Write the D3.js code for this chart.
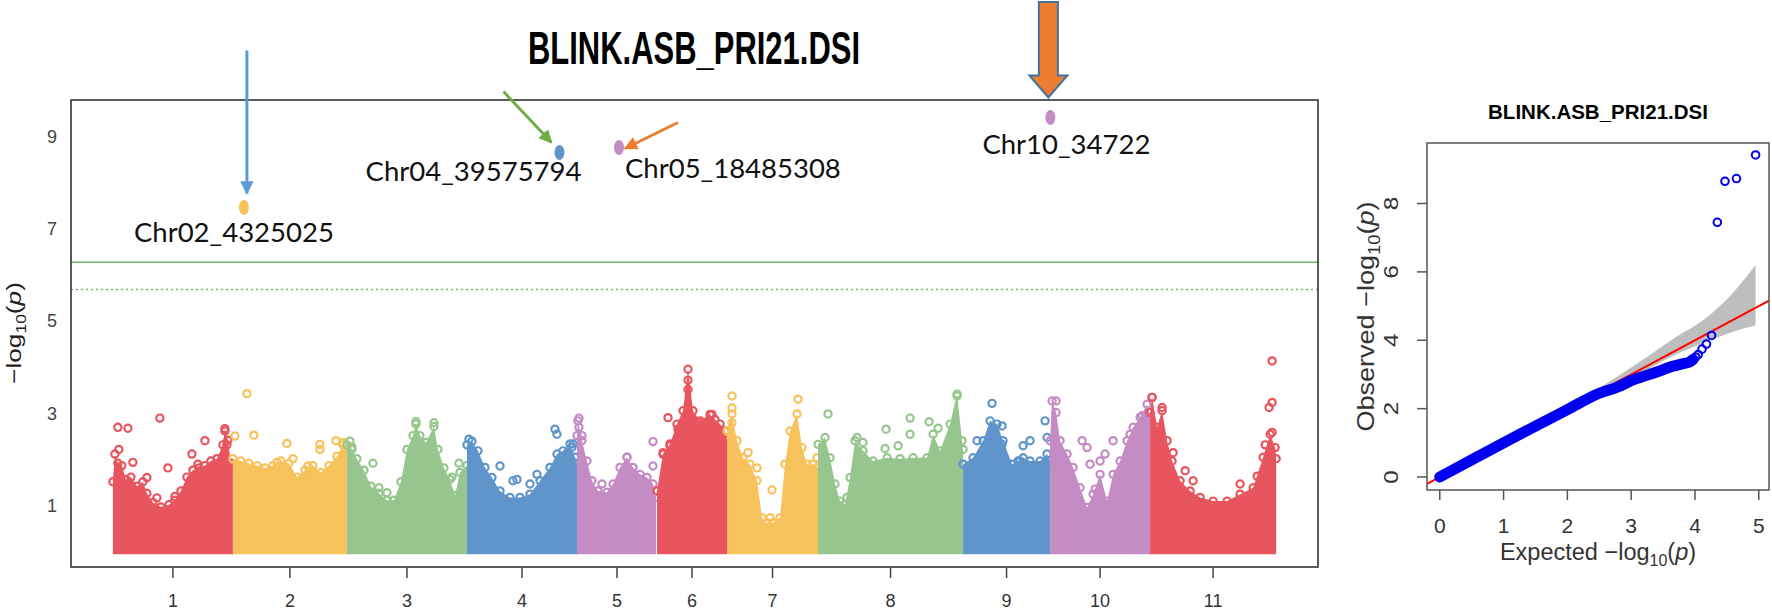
<!DOCTYPE html>
<html lang="en">
<head>
<meta charset="UTF-8">
<title>BLINK.ASB_PRI21.DSI</title>
<script src="https://cdn.jsdelivr.net/npm/d3@7"></script>
<style>
  body { margin: 0; background: #fff; }
  svg { display: block; }
</style>
</head>
<body>
<svg id="chart" width="1772" height="611"></svg>
<script>
// ---------- Manhattan data ----------
const chromosomes = ["1", "2", "3", "4", "5", "6", "7", "8", "9", "10", "11"];
const chrLength = [120, 114, 120, 110, 80, 70, 91, 145, 87, 100, 126];   // Mb, from tick spacing
const chrPalette = ["#E8555F", "#F7C25B", "#96C68D", "#6095CB", "#C48BC5"];

// upper edge of the dense SNP cloud, [position in chromosome, -log10(p)]
const cloudTop = [
  [[0,1.5],[2,2.1],[5,1.9],[9,1.85],[13,1.55],[18,1.6],[24,1.4],[30,1.5],[34,1.25],[40,1.05],[48,0.95],[56,1.0],[62,1.1],[68,1.3],[74,1.6],[80,1.75],[86,1.8],[92,1.85],[98,1.95],[104,2.0],[110,2.3],[112,2.65],[115,2.4],[118,1.9],[120,1.8]],
  [[0,2.0],[8,1.95],[16,1.9],[24,1.85],[32,1.8],[40,1.85],[48,1.95],[56,1.9],[64,1.6],[72,1.75],[80,1.85],[88,1.7],[96,1.85],[104,2.05],[110,2.3],[114,2.2]],
  [[0,2.3],[5,2.2],[10,2.0],[17,1.75],[24,1.4],[32,1.25],[40,1.1],[47,1.1],[54,1.5],[60,2.2],[66,2.5],[69,2.75],[73,2.5],[79,2.35],[87,2.7],[91,2.2],[97,1.8],[103,1.55],[108,1.2],[113,1.7],[120,1.85]],
  [[0,2.3],[5,2.38],[11,2.17],[18,1.81],[25,1.59],[33,1.3],[43,1.16],[53,1.16],[63,1.23],[73,1.52],[83,1.81],[90,2.1],[96,2.17],[103,2.32],[108,2.03],[110,1.9]],
  [[0,2.5],[1,2.82],[5,2.39],[10,1.95],[15,1.52],[21,1.3],[30,1.27],[36,1.45],[43,1.81],[50,2.03],[56,1.81],[63,1.66],[70,1.59],[76,1.45],[79,1.16]],
  [[0,1.3],[6,2.1],[13,2.32],[20,2.75],[26,3.04],[31,3.94],[36,3.04],[43,2.82],[53,2.96],[58,2.85],[63,2.75],[68,2.6],[70,2.4]],
  [[0,2.6],[5,2.97],[10,2.39],[16,2.02],[23,1.88],[30,1.52],[35,0.72],[40,0.61],[46,0.61],[53,0.72],[58,1.88],[63,2.6],[70,2.97],[75,2.24],[80,1.88],[86,1.88],[91,1.81]],
  [[0,2.31],[7,2.46],[12,2.02],[17,1.45],[22,1.08],[27,1.01],[32,1.59],[37,2.39],[45,2.17],[55,1.95],[69,2.02],[82,2.0],[95,2.02],[109,2.02],[115,2.53],[122,2.17],[132,2.75],[139,3.4],[144,2.39],[145,2.2]],
  [[0,1.88],[10,2.02],[20,2.39],[27,2.82],[34,2.75],[40,2.39],[49,1.88],[55,1.95],[60,2.02],[67,1.95],[77,1.95],[84,2.1],[87,1.95]],
  [[0,2.39],[2,3.25],[6,3.0],[10,2.39],[17,2.1],[23,1.81],[30,1.37],[37,0.94],[43,1.23],[50,1.66],[57,1.08],[63,1.66],[70,1.95],[77,2.39],[83,2.68],[90,2.9],[97,3.18],[100,2.9]],
  [[0,3.0],[2,3.33],[7,2.68],[12,3.04],[17,2.39],[22,1.95],[30,1.52],[40,1.3],[50,1.16],[63,1.08],[77,1.08],[90,1.23],[103,1.37],[113,2.03],[120,2.53],[125,2.24],[126,2.0]]
];

// isolated SNPs standing above the cloud
const looseSnps = [
  [[5,2.68],[15,2.66],[47,2.88],[55,1.8],[92,2.39],[79,2.1],[85,1.88],[44,1.15],[62,1.18],[34,1.59],[6,2.2],[20,1.92],[112,2.6],[114,2.3]],
  [[14,3.41],[2,2.49],[21,2.51],[54,2.33],[44,1.92],[87,2.31],[87,2.2],[75,1.84],[103,2.39],[75,1.59],[110,2.35],[60,2.0]],
  [[69,2.8],[87,2.78],[26,1.9],[32,1.37],[40,1.26],[3,2.38],[112,1.9],[105,1.6],[5,2.25]],
  [[88,2.64],[90,2.53],[33,1.84],[50,1.55],[46,1.52],[106,2.32],[105,2.25],[70,1.66],[63,1.45],[2,2.42]],
  [[2,2.88],[2,2.68],[5,2.5],[76,2.37],[76,1.84],[50,2.03],[25,1.45]],
  [[11,2.89],[21,2.64],[13,2.28],[55,2.96],[41,2.8],[6,2.13],[31,3.7],[31,3.5]],
  [[5,3.36],[5,3.1],[5,2.78],[71,3.29],[45,1.32],[30,1.8],[21,2.13],[90,2.02],[43,0.72]],
  [[10,2.97],[68,2.64],[92,2.88],[92,2.53],[111,2.8],[120,2.66],[39,2.46],[45,2.35],[80,2.28],[67,2.22],[29,1.16],[25,0.65],[139,3.36]],
  [[29,3.2],[14,2.39],[39,2.71],[39,2.31],[82,2.82],[67,2.39],[60,2.28],[84,2.46],[57,1.95]],
  [[6,3.25],[32,2.39],[37,2.24],[63,2.39],[45,1.34],[50,1.95],[40,1.88],[80,2.53],[92,2.93],[55,2.1]],
  [[122,4.12],[122,3.22],[119,3.11],[122,2.57],[12,3.11],[23,2.13],[35,1.74],[43,1.52],[90,1.45],[107,1.62],[115,2.3],[2,3.33]]
];

// significant SNPs
const sigName = ["Chr02_4325025", "Chr04_39575794", "Chr05_18485308", "Chr10_34722"];
const sigChr = [2, 4, 5, 10];
const sigPos = [11, 92.5, 42, 0.3];
const sigLogP = [7.45, 8.64, 8.75, 9.40];

const thresholds = [6.26, 5.67];
const manhattanYTicks = [1, 3, 5, 7, 9];

// ---------- QQ data ----------
const qqExpected = [0, 0.5, 1, 1.5, 2, 2.5, 2.8, 3.0, 3.2, 3.4, 3.65, 3.8, 3.91, 3.97];
const qqObserved = [0, 0.5, 1.0, 1.49, 1.97, 2.45, 2.64, 2.82, 2.95, 3.07, 3.24, 3.31, 3.36, 3.44];
const qqTailExpected = [4.01, 4.05, 4.11, 4.18, 4.26, 4.35, 4.47, 4.65, 4.95];
const qqTailObserved = [3.51, 3.58, 3.74, 3.89, 4.14, 7.45, 8.65, 8.73, 9.42];
const ciExpected = [2.5, 3.0, 3.65, 4.17, 4.6, 4.95];
const ciUpper = [2.6, 3.2, 4.03, 4.65, 5.4, 6.2];
const ciLower = [2.42, 2.88, 3.54, 3.95, 4.25, 4.44];
const qqXTicks = [0, 1, 2, 3, 4, 5];
const qqYTicks = [0, 2, 4, 6, 8];

const title = "BLINK.ASB_PRI21.DSI";

// ---------- layout ----------
const svg = d3.select("#chart");
const narrow = "'Liberation Sans Narrow','Arial Narrow','Liberation Sans',sans-serif";
const sans = "'Liberation Sans',Arial,sans-serif";
const box = { left: 71, right: 1318, top: 100, bottom: 567 };

const chrStart = d3.cumsum([0].concat(chrLength.slice(0, -1)));
const genomeLen = d3.sum(chrLength);

const xM = d3.scaleLinear()
  .domain([-0.036 * genomeLen, 1.036 * genomeLen])
  .range([box.left, box.right]);
const yM = d3.scaleLinear().domain([-0.35, 9.78]).range([box.bottom, box.top]);

// big title
svg.append("text")
  .attr("x", 694).attr("y", 64)
  .attr("text-anchor", "middle")
  .attr("textLength", 332).attr("lengthAdjust", "spacingAndGlyphs")
  .style("font-family", narrow).style("font-weight", "bold").style("font-size", "47px")
  .text(title);

// threshold lines
svg.append("line")
  .attr("x1", box.left).attr("x2", box.right)
  .attr("y1", yM(thresholds[0])).attr("y2", yM(thresholds[0]))
  .attr("stroke", "#6DB56D").attr("stroke-width", 1.6);
svg.append("line")
  .attr("x1", box.left).attr("x2", box.right)
  .attr("y1", yM(thresholds[1])).attr("y2", yM(thresholds[1]))
  .attr("stroke", "#6DB56D").attr("stroke-width", 1.6).attr("stroke-dasharray", "2,3");

// clouds
const cloudArea = d3.area()
  .x(d => d[0]).y0(yM(0) + 3.5).y1(d => d[1]);

const clouds = svg.append("g");
chromosomes.forEach((c, i) => {
  const col = chrPalette[i % 5];
  const pts = cloudTop[i].map(d => [xM(chrStart[i] + d[0]), yM(d[1])]);
  clouds.append("path").datum(pts)
    .attr("d", cloudArea)
    .attr("fill", col);
  clouds.selectAll(null).data(pts.concat(
      looseSnps[i].map(d => [xM(chrStart[i] + d[0]), yM(d[1])])))
    .enter().append("circle")
    .attr("cx", d => d[0]).attr("cy", d => d[1]).attr("r", 3.6)
    .attr("fill", "none").attr("stroke", col).attr("stroke-width", 2.2);
});

// box
svg.append("rect")
  .attr("x", box.left).attr("y", box.top)
  .attr("width", box.right - box.left).attr("height", box.bottom - box.top)
  .attr("fill", "none").attr("stroke", "#333").attr("stroke-width", 1.6);

// x axis
const xTicks = chromosomes.map((c, i) => ({ c, x: xM(chrStart[i] + chrLength[i] / 2) }));
svg.append("g").selectAll("line").data(xTicks).enter().append("line")
  .attr("x1", d => d.x).attr("x2", d => d.x)
  .attr("y1", box.bottom).attr("y2", box.bottom + 11)
  .attr("stroke", "#444").attr("stroke-width", 1.5);
svg.append("g").selectAll("text").data(xTicks).enter().append("text")
  .attr("x", d => d.x).attr("y", box.bottom + 40)
  .attr("text-anchor", "middle")
  .style("font-family", narrow).style("font-size", "18px").attr("fill", "#333")
  .text(d => d.c);

// y axis labels
svg.append("g").selectAll("text").data(manhattanYTicks).enter().append("text")
  .attr("x", 52).attr("y", d => yM(d) + 7)
  .attr("text-anchor", "middle")
  .style("font-family", narrow).style("font-size", "18px").attr("fill", "#444")
  .text(d => d);

const yLab = svg.append("text")
  .attr("transform", "translate(21,333) rotate(-90) scale(1.25,1)")
  .attr("text-anchor", "middle")
  .style("font-family", sans).style("font-size", "21px").attr("fill", "#222");
yLab.append("tspan").text("\u2212log");
yLab.append("tspan").attr("dy", 5).style("font-size", "14px").text("10");
yLab.append("tspan").attr("dy", -5).text("(");
yLab.append("tspan").style("font-style", "italic").text("p");
yLab.append("tspan").text(")");

// ---------- annotations ----------
const sig = sigName.map((n, i) => ({
  name: n,
  x: xM(chrStart[sigChr[i] - 1] + sigPos[i]),
  y: yM(sigLogP[i]),
  col: chrPalette[(sigChr[i] - 1) % 5]
}));

const defs = svg.append("defs");
const arrowCols = ["#5B9BD5", "#70AD47", "#ED7D31"];
arrowCols.forEach((c, i) => {
  defs.append("marker")
    .attr("id", "ah" + i)
    .attr("viewBox", "0 0 10 10").attr("refX", 9).attr("refY", 5)
    .attr("markerWidth", 4.5).attr("markerHeight", 4.5)
    .attr("orient", "auto")
    .append("path").attr("d", "M0,0 L10,5 L0,10 z").attr("fill", c);
});

// thin arrows, offsets from the marked SNP
const thinArrows = [
  { s: 0, from: [3, -157], to: [3, -14], c: 0 },
  { s: 1, from: [-56, -61], to: [-8, -10], c: 1 },
  { s: 2, from: [59, -25], to: [6, 1], c: 2 }
];
svg.append("g").selectAll("line").data(thinArrows).enter().append("line")
  .attr("x1", d => sig[d.s].x + d.from[0]).attr("y1", d => sig[d.s].y + d.from[1])
  .attr("x2", d => sig[d.s].x + d.to[0]).attr("y2", d => sig[d.s].y + d.to[1])
  .attr("stroke", d => arrowCols[d.c]).attr("stroke-width", 3)
  .attr("marker-end", d => "url(#ah" + d.c + ")");

// block arrow over Chr10
{
  const tx = sig[3].x - 2, ty = sig[3].y - 20;
  const pts = [
    [tx - 9.5, 2], [tx + 9.5, 2], [tx + 9.5, ty - 22], [tx + 19, ty - 22],
    [tx, ty], [tx - 19, ty - 22], [tx - 9.5, ty - 22]
  ];
  svg.append("path")
    .attr("d", d3.line()(pts) + "Z")
    .attr("fill", "#ED7D31").attr("stroke", "#41719C").attr("stroke-width", 2);
}

svg.append("g").selectAll("ellipse").data(sig).enter().append("ellipse")
  .attr("cx", d => d.x).attr("cy", d => d.y).attr("rx", 5).attr("ry", 7.5)
  .attr("fill", d => d.col);

const labelPos = [
  { dx: -10, dy: 35, anchor: "middle" },
  { dx: 22, dy: 28, anchor: "end" },
  { dx: 6, dy: 31, anchor: "start" },
  { dx: 16, dy: 36, anchor: "middle" }
];
svg.append("g").selectAll("text").data(sig).enter().append("text")
  .attr("x", (d, i) => d.x + labelPos[i].dx)
  .attr("y", (d, i) => d.y + labelPos[i].dy)
  .attr("text-anchor", (d, i) => labelPos[i].anchor)
  .style("font-family", "Lato,'Open Sans',sans-serif").style("font-size", "27.5px").attr("fill", "#111")
  .text(d => d.name);

// ---------- QQ plot ----------
const qb = { left: 1427, right: 1769, top: 143, bottom: 490 };
const xQ = d3.scaleLinear().domain([-0.2, 5.16]).range([qb.left, qb.right]);
const yQ = d3.scaleLinear().domain([-0.38, 9.77]).range([qb.bottom, qb.top]);

defs.append("clipPath").attr("id", "qqclip").append("rect")
  .attr("x", qb.left).attr("y", qb.top)
  .attr("width", qb.right - qb.left).attr("height", qb.bottom - qb.top);

const qq = svg.append("g").attr("clip-path", "url(#qqclip)");

const ci = ciExpected.map((e, i) => ({ e, lo: ciLower[i], hi: ciUpper[i] }));
qq.append("path").datum(ci)
  .attr("d", d3.area().x(d => xQ(d.e)).y0(d => yQ(d.lo)).y1(d => yQ(d.hi)).curve(d3.curveMonotoneX))
  .attr("fill", "#BEBEBE");

qq.append("line")
  .attr("x1", xQ(-0.2)).attr("y1", yQ(-0.2))
  .attr("x2", xQ(5.16)).attr("y2", yQ(5.16))
  .attr("stroke", "#F00").attr("stroke-width", 2);

const band = qqExpected.map((e, i) => [xQ(e), yQ(qqObserved[i])]);
qq.append("path").datum(band)
  .attr("d", d3.line().curve(d3.curveMonotoneX))
  .attr("fill", "none").attr("stroke", "#0000F0")
  .attr("stroke-width", 11).attr("stroke-linecap", "round");

qq.selectAll(".tail").data(qqTailExpected.map((e, i) => [e, qqTailObserved[i]]))
  .enter().append("circle")
  .attr("cx", d => xQ(d[0])).attr("cy", d => yQ(d[1])).attr("r", 3.8)
  .attr("fill", "none").attr("stroke", "#0000F0").attr("stroke-width", 2);

svg.append("rect")
  .attr("x", qb.left).attr("y", qb.top)
  .attr("width", qb.right - qb.left).attr("height", qb.bottom - qb.top)
  .attr("fill", "none").attr("stroke", "#555").attr("stroke-width", 1.5);

svg.append("g").selectAll("line").data(qqXTicks).enter().append("line")
  .attr("x1", d => xQ(d)).attr("x2", d => xQ(d))
  .attr("y1", qb.bottom).attr("y2", qb.bottom + 10)
  .attr("stroke", "#555").attr("stroke-width", 1.5);
svg.append("g").selectAll("text").data(qqXTicks).enter().append("text")
  .attr("x", d => xQ(d)).attr("y", qb.bottom + 43)
  .attr("text-anchor", "middle")
  .style("font-family", sans).style("font-size", "21px").attr("fill", "#333")
  .text(d => d);

svg.append("g").selectAll("line").data(qqYTicks).enter().append("line")
  .attr("x1", qb.left).attr("x2", qb.left - 10)
  .attr("y1", d => yQ(d)).attr("y2", d => yQ(d))
  .attr("stroke", "#555").attr("stroke-width", 1.5);
svg.append("g").selectAll("text").data(qqYTicks).enter().append("text")
  .attr("transform", d => `translate(${qb.left - 29},${yQ(d)}) rotate(-90) scale(1.15,1)`)
  .attr("text-anchor", "middle")
  .style("font-family", sans).style("font-size", "21px").attr("fill", "#333")
  .text(d => d);

svg.append("text")
  .attr("x", (qb.left + qb.right) / 2).attr("y", 119)
  .attr("text-anchor", "middle")
  .style("font-family", sans).style("font-weight", "bold").style("font-size", "20.5px")
  .text(title);

function qqLabel(sel, word) {
  sel.style("font-family", sans).style("font-size", "23.5px").attr("fill", "#333")
    .attr("text-anchor", "middle");
  sel.append("tspan").text(word + "  \u2212log");
  sel.append("tspan").attr("dy", 6).style("font-size", "16px").text("10");
  sel.append("tspan").attr("dy", -6).text("(");
  sel.append("tspan").style("font-style", "italic").text("p");
  sel.append("tspan").text(")");
}
qqLabel(svg.append("text").attr("x", (qb.left + qb.right) / 2).attr("y", 560), "Expected");
qqLabel(svg.append("text")
  .attr("transform", `translate(1374,${(qb.top + qb.bottom) / 2}) rotate(-90) scale(1.15,1)`), "Observed");
</script>
</body>
</html>
